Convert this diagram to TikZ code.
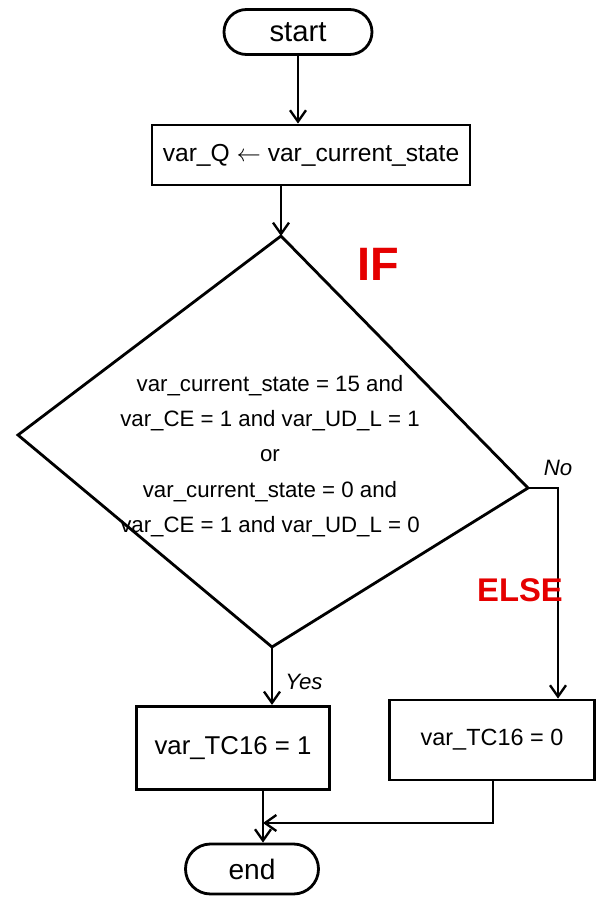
\documentclass[tikz,border=0pt]{standalone}
\usepackage{fontspec}
\setmainfont{Liberation Sans}
\usetikzlibrary{arrows.meta,shapes.misc}

\tikzset{
  px/.style={x=0.03cm,y=-0.03cm},
  flowline/.style={line width=2.4pt,black},
  flowarrow/.style={flowline,-{Straight Barb[length=3.4mm,width=4.8mm,line width=2pt]}},
  terminal/.style={rounded rectangle,draw,line width=2.4pt,inner sep=0pt},
  actionbox/.style={rectangle,draw,line width=2.4pt,inner sep=0pt},
  condtext/.style={align=center,font=\fontsize{19}{30}\selectfont},
  branchlabel/.style={font=\fontsize{19}{22}\selectfont\itshape},
  keyword/.style={text=red!90!black,font=\bfseries}
}

\begin{document}
\begin{tikzpicture}[px]
  \useasboundingbox (0,0) rectangle (605,903);

  % terminals and action boxes
  \node[terminal,minimum width=4.44cm,minimum height=1.35cm,font=\fontsize{25}{28}\selectfont]
    (start) at (298,32) {start};
  \node[actionbox,minimum width=9.54cm,minimum height=1.8cm,font=\fontsize{21}{24}\selectfont]
    (assign) at (311,155) {var\_Q $\leftarrow$ var\_current\_state};
  \node[actionbox,minimum width=5.79cm,minimum height=2.5cm,font=\fontsize{22}{26}\selectfont]
    (tcone) at (233,748) {var\_TC16 = 1};
  \node[actionbox,minimum width=6.15cm,minimum height=2.4cm,font=\fontsize{20}{24}\selectfont]
    (tczero) at (492,740) {var\_TC16 = 0};
  \node[terminal,minimum width=3.99cm,minimum height=1.5cm,font=\fontsize{24}{28}\selectfont]
    (stop) at (252,869) {end};

  % decision diamond, drawn from its four corners
  \coordinate (dtop) at (281,236);
  \coordinate (dleft) at (18,435);
  \coordinate (dright) at (528,488);
  \coordinate (dbottom) at (272,647);
  \draw[flowline,line join=miter] (dtop) -- (dright) -- (dbottom) -- (dleft) -- cycle;
  \node[condtext] (cond) at (270,456)
    {var\_current\_state = 15 and\\
     var\_CE = 1 and var\_UD\_L = 1\\
     or\\
     var\_current\_state = 0 and\\
     var\_CE = 1 and var\_UD\_L = 0};

  % connectors
  \draw[flowarrow] (start.south) -- (start.south |- assign.north);
  \draw[flowarrow] (assign.south -| dtop) -- (dtop);
  \draw[flowarrow] (dbottom) -- (dbottom |- tcone.north);
  \coordinate (nocorner) at (558,488);
  \draw[flowarrow] (dright) -- (nocorner) -- (nocorner |- tczero.north);
  \coordinate (joinpt) at (263,823);
  \draw[flowarrow] (tcone.south -| joinpt) -- (joinpt |- stop.north);
  \coordinate (zerodrop) at (493,823);
  \draw[flowarrow] (tczero.south -| zerodrop) -- (zerodrop) -- (joinpt);

  % branch labels
  \node[branchlabel] (yes) at (304,682) {Yes};
  \node[branchlabel] (no) at (558,468) {No};
  \node[keyword,font=\fontsize{40}{44}\selectfont\bfseries] (iflabel) at (378,264) {IF};
  \node[keyword,font=\fontsize{28}{32}\selectfont\bfseries] (elselabel) at (520,590) {ELSE};
\end{tikzpicture}
\end{document}
